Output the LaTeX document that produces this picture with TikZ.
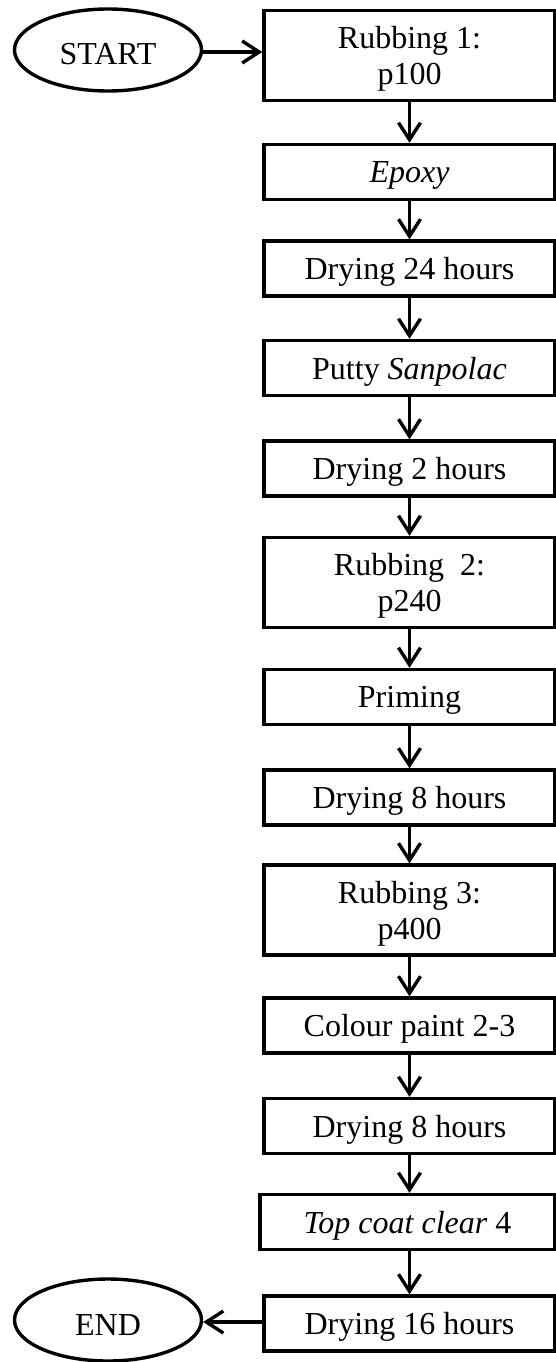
\documentclass[tikz,border=0pt]{standalone}
\usepackage{fontspec}
\setmainfont{Liberation Serif}
\usetikzlibrary{arrows.meta,shapes.geometric}
\begin{document}
\begin{tikzpicture}[x=1pt,y=-1pt,
  stepbox/.style={draw,line width=3.4pt,minimum width=291pt,minimum height=55pt,inner sep=0pt,align=center,text depth=0pt,font=\fontsize{32}{36}\selectfont},
  tallbox/.style={stepbox,minimum height=90pt},
  term/.style={draw,ellipse,line width=3.4pt,minimum width=187pt,minimum height=82pt,inner sep=0pt,text height=30pt,text depth=0pt,font=\fontsize{32}{36}\selectfont},
  arr/.style={line width=3.4pt,-{Straight Barb[length=17pt,width=22pt]}}]
\useasboundingbox (0,0) rectangle (556,1362);
\node[term] (start) at (108,50) {START};
\node[tallbox] (b1) at (409.5,55.5) {Rubbing 1:\\p100};
\node[stepbox] (b2) at (409.5,172) {\textit{Epoxy}};
\node[stepbox] (b3) at (409.5,268.5) {Drying 24 hours};
\node[stepbox] (b4) at (409.5,368) {Putty \textit{Sanpolac}};
\node[stepbox] (b5) at (409.5,468.5) {Drying 2 hours};
\node[tallbox] (b6) at (409.5,582.5) {Rubbing\ \ 2:\\p240};
\node[stepbox] (b7) at (409.5,697) {Priming};
\node[stepbox] (b8) at (409.5,797.5) {Drying 8 hours};
\node[tallbox] (b9) at (409.5,910) {Rubbing 3:\\p400};
\node[stepbox] (b10) at (409.5,1025.5) {Colour paint 2-3};
\node[stepbox] (b11) at (409.5,1126) {Drying 8 hours};
\node[stepbox,minimum width=295pt] (b12) at (407.5,1222) {\textit{Top coat clear} 4};
\node[stepbox] (b13) at (409.5,1323.5) {Drying 16 hours};
\node[term] (end) at (108,1320) {END};
\draw[arr] (start.east |- 0,52) -- (b1.west |- 0,52);
\foreach \a/\b in {b1/b2,b2/b3,b3/b4,b4/b5,b5/b6,b6/b7,b7/b8,b8/b9,b9/b10,b10/b11}
  \draw[arr] (\a) -- (\b);
\draw[arr] (b11) -- (b11 |- b12.north);
\draw[arr] (b11 |- b12.south) -- (b13);
\draw[arr] (b13.west |- 0,1322) -- (end.east |- 0,1322);
\end{tikzpicture}
\end{document}
